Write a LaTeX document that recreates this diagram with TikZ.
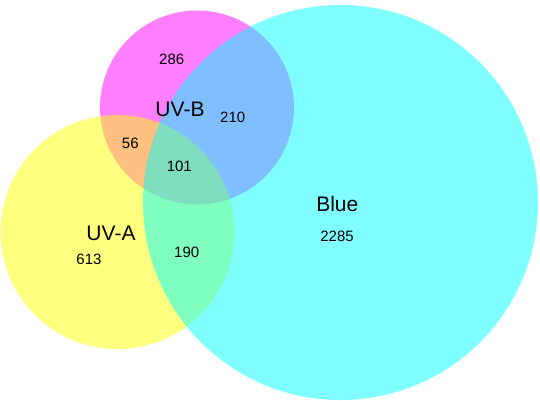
\documentclass[tikz,border=0pt]{standalone}
\usepackage{fontspec}
\setmainfont{Liberation Sans}
\definecolor{setB}{RGB}{255,0,255}
\definecolor{setA}{RGB}{255,255,0}
\definecolor{setC}{RGB}{0,255,255}
\begin{document}
\begin{tikzpicture}[x=1pt,y=-1pt,
  setdisc/.style={fill=#1,fill opacity=0.5,draw=none},
  count/.style={anchor=base,inner sep=0pt,font=\fontsize{15}{15}\selectfont},
  setname/.style={anchor=base,inner sep=0pt,font=\fontsize{21}{21}\selectfont}]
  \useasboundingbox (0,0) rectangle (540,400);
  % three translucent discs: UV-B, UV-A, Blue
  \fill[setdisc=setB] (197,107.5) circle[radius=97];
  \fill[setdisc=setA] (117.5,232) circle[radius=117];
  \fill[setdisc=setC] (340.5,202.5) circle[radius=197.5];
  % set names
  \node[setname] (uvb) at (180,116.7) {UV-B};
  \node[setname] (uva) at (111,240) {UV-A};
  \node[setname] (blue) at (337.3,211.7) {Blue};
  % region counts
  \node[count] (nb) at (171.7,64.3) {286};
  \node[count] (nbc) at (232.7,122.7) {210};
  \node[count] (nab) at (130.3,148.7) {56};
  \node[count] (nabc) at (179.3,171.7) {101};
  \node[count] (na) at (89,264) {613};
  \node[count] (nac) at (186.7,257.3) {190};
  \node[count] (nc) at (337,241) {2285};
\end{tikzpicture}
\end{document}
